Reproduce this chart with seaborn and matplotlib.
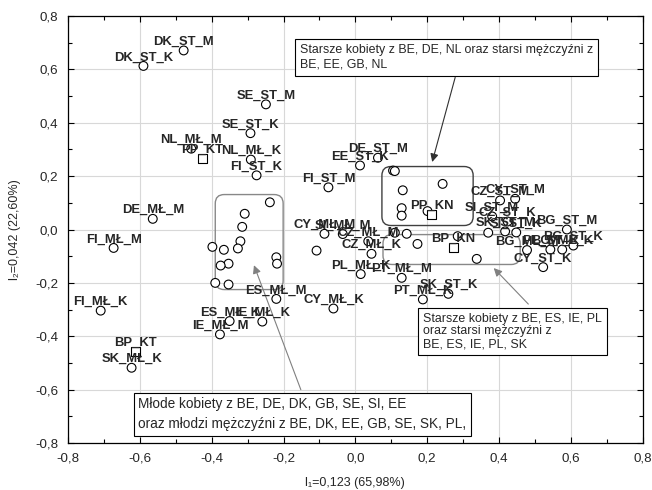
import numpy as np
import pandas as pd
import matplotlib
matplotlib.use('Agg')
import matplotlib.pyplot as plt
import seaborn as sns
from matplotlib.patches import FancyBboxPatch
from matplotlib.ticker import FixedLocator, FixedFormatter, MultipleLocator

# punkty z etykietami (kolka)
names = ['DK_ST_M', 'DK_ST_K', 'SE_ST_M', 'SE_ST_K', 'NL_MŁ_M', 'NL_MŁ_K', 'FI_ST_K',
         'FI_ST_M', 'EE_ST_K', 'DE_ST_M', 'DE_MŁ_M', 'FI_MŁ_M', 'FI_MŁ_K', 'SK_MŁ_K',
         'ES_MŁ_M', 'ES_MŁ_K', 'IE_MŁ_K', 'IE_MŁ_M', 'CY_MŁ_K', 'CY_MŁ_M', 'SI_MŁ_M',
         'CZ_MŁ_M', 'CZ_MŁ_K', 'PL_MŁ_K', 'PT_MŁ_M', 'PT_MŁ_K', 'SK_ST_K', 'CZ_ST_M',
         'CY_ST_M', 'SI_ST_M', 'CZ_ST_K', 'SK_ST_M', 'SI_ST_K', 'BG_ST_M', 'BG_MŁ_M',
         'BG_MŁ_K', 'PL_ST_K', 'BG_ST_K', 'CY_ST_K']
pt_x = [-0.478, -0.590, -0.249, -0.292, -0.457, -0.291, -0.275,
        -0.075, 0.013, 0.063, -0.564, -0.673, -0.709, -0.623,
        -0.220, -0.350, -0.259, -0.377, -0.061, -0.086, -0.035,
        0.036, 0.045, 0.015, 0.129, 0.188, 0.259, 0.403,
        0.445, 0.381, 0.424, 0.417, 0.448, 0.589, 0.478,
        0.576, 0.543, 0.607, 0.523]
pt_y = [0.671, 0.613, 0.469, 0.361, 0.303, 0.262, 0.203,
        0.158, 0.240, 0.269, 0.040, -0.069, -0.304, -0.518,
        -0.260, -0.343, -0.345, -0.393, -0.296, -0.016, -0.017,
        -0.044, -0.091, -0.167, -0.181, -0.262, -0.241, 0.109,
        0.115, 0.049, 0.030, -0.007, -0.011, 0.000, -0.077,
        -0.075, -0.075, -0.060, -0.141]

# punkty dodatkowe (kwadraty)
sq_names = ['PP_KT', 'PP_KN', 'BP_KN', 'BP_KT']
sq_x = [-0.426, 0.213, 0.273, -0.612]
sq_y = [0.267, 0.056, -0.066, -0.457]

# kolka bez etykiet
free_x = [-0.238, -0.308, -0.315, -0.320, -0.327, -0.398, -0.366, -0.220, -0.218,
          -0.353, -0.375, -0.390, -0.353, -0.108, 0.110, 0.143, 0.173, 0.285,
          0.338, 0.370, 0.105, 0.110, 0.243, 0.132, 0.129, 0.129, 0.201]
free_y = [0.102, 0.059, 0.010, -0.044, -0.071, -0.065, -0.076, -0.104, -0.128,
          -0.128, -0.135, -0.200, -0.206, -0.079, -0.012, -0.016, -0.054, -0.025,
          -0.110, -0.012, 0.221, 0.219, 0.171, 0.147, 0.080, 0.052, 0.069]

ticks = [-0.8, -0.6, -0.4, -0.2, 0.0, 0.2, 0.4, 0.6, 0.8]
tick_labels = ['-0,8', '-0,6', '-0,4', '-0,2', '0,0', '0,2', '0,4', '0,6', '0,8']

note1 = 'Starsze kobiety z BE, DE, NL oraz starsi mężczyźni z\nBE, EE, GB, NL'
note2 = 'Starsze kobiety z BE, ES, IE, PL\noraz starsi mężczyźni z\nBE, ES, IE, PL, SK'
note3 = 'Młode kobiety z BE, DE, DK, GB, SE, SI, EE\noraz młodzi mężczyźni z BE, DK, EE, GB, SE, SK, PL,'

df = pd.concat([
    pd.DataFrame({'x': pt_x, 'y': pt_y, 'typ': 'o'}),
    pd.DataFrame({'x': free_x, 'y': free_y, 'typ': 'o'}),
    pd.DataFrame({'x': sq_x, 'y': sq_y, 'typ': 's'}),
], ignore_index=True)

sns.set_style('ticks')
plt.rcParams['font.family'] = ['Liberation Sans', 'DejaVu Sans']

fig = plt.figure(figsize=(6.52, 4.9), dpi=100)
ax = fig.add_axes([0.1043, 0.0959, 0.8814, 0.8714])

# zaokraglone ramki grup
aspect = 358.5 / 267
groups = [(0.074, 0.015, 0.254, 0.221, '#404040'),
          (0.077, -0.131, 0.382, 0.112, '#888888'),
          (-0.390, -0.225, 0.189, 0.356, '#888888')]
for gx, gy, gw, gh, col in groups:
    ax.add_patch(FancyBboxPatch((gx, gy), gw, gh,
                                boxstyle='round,pad=0,rounding_size=0.025',
                                mutation_aspect=aspect, fc='none', ec=col,
                                lw=1.0, zorder=2))

sns.scatterplot(data=df, x='x', y='y', style='typ', markers={'o': 'o', 's': 's'},
                color='white', edgecolor='black', linewidth=0.8, s=40,
                legend=False, ax=ax, zorder=3)

for n, x, y in zip(names + sq_names, pt_x + sq_x, pt_y + sq_y):
    ax.annotate(n, (x, y), xytext=(0, 4), textcoords='offset points',
                ha='center', va='baseline', fontsize=9.4, fontweight='bold', zorder=4)

# opisy i strzalki
ax.annotate('', xy=(0.212, 0.243), xytext=(0.280, 0.580),
            arrowprops=dict(arrowstyle='-|>', color='#303030', lw=0.8, mutation_scale=12))
ax.annotate('', xy=(0.380, -0.137), xytext=(0.487, -0.287),
            arrowprops=dict(arrowstyle='-|>', color='#808080', lw=0.8, mutation_scale=12))
ax.annotate('', xy=(-0.285, -0.124), xytext=(-0.149, -0.610),
            arrowprops=dict(arrowstyle='-|>', color='#808080', lw=0.8, mutation_scale=12))

box = dict(boxstyle='square,pad=0.4', fc='white', ec='black', lw=0.8)
ax.text(-0.155, 0.697, note1, ha='left', va='top', fontsize=8.9, linespacing=1.35,
        bbox=box, zorder=5)
ax.text(0.188, -0.311, note2, ha='left', va='top', fontsize=8.9, linespacing=1.1,
        bbox=box, zorder=5)
ax.text(-0.604, -0.629, note3, ha='left', va='top', fontsize=9.8, linespacing=1.55,
        bbox=dict(boxstyle='square,pad=0.35', fc='white', ec='black', lw=0.8), zorder=5)

ax.set_xlim(-0.8, 0.8)
ax.set_ylim(-0.8, 0.8)
ax.xaxis.set_major_locator(FixedLocator(ticks))
ax.xaxis.set_major_formatter(FixedFormatter(tick_labels))
ax.yaxis.set_major_locator(FixedLocator(ticks))
ax.yaxis.set_major_formatter(FixedFormatter(tick_labels))
ax.xaxis.set_minor_locator(MultipleLocator(0.1))
ax.yaxis.set_minor_locator(MultipleLocator(0.1))
ax.grid(True, which='major', color='#d8d8d8', lw=0.8, zorder=0)
ax.set_axisbelow(True)
ax.tick_params(which='both', direction='in', top=True, right=True, labelsize=9.6,
               width=0.8, color='black')
ax.tick_params(which='major', length=4, pad=7)
ax.tick_params(which='minor', length=3)
for sp in ax.spines.values():
    sp.set_linewidth(0.9)
    sp.set_color('black')

ax.set_xlabel('l₁=0,123 (65,98%)', fontsize=9, labelpad=9)
ax.set_ylabel('l₂=0,042 (22,60%)', fontsize=9, labelpad=10)

fig.savefig('out.png', dpi=100)
